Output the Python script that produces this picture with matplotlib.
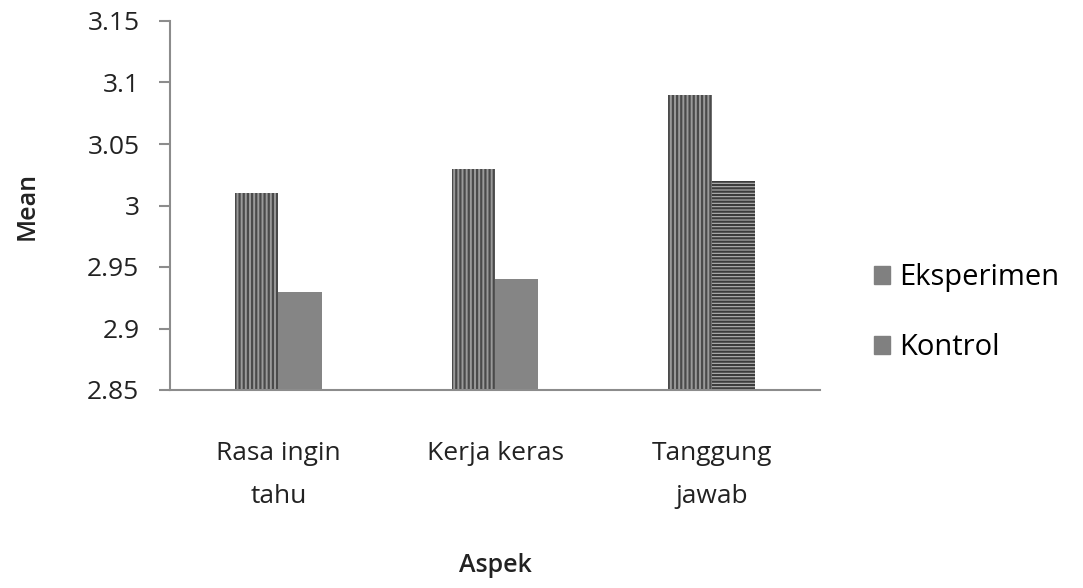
import matplotlib
matplotlib.use("Agg")
import matplotlib.pyplot as plt
import matplotlib.patches as mpatches
import numpy as np

plt.rcParams["font.family"] = ["Open Sans", "DejaVu Sans"]
plt.rcParams["hatch.linewidth"] = 1.6

categories = ["Rasa ingin\ntahu", "Kerja keras", "Tanggung\njawab"]
eksperimen = [3.01, 3.03, 3.09]
kontrol = [2.93, 2.94, 3.02]
y_ticks = [2.85, 2.9, 2.95, 3.0, 3.05, 3.1, 3.15]
y_labels = ["2.85", "2.9", "2.95", "3", "3.05", "3.1", "3.15"]

W, H = 1083, 588
fig = plt.figure(figsize=(W / 100, H / 100), dpi=100)
ax = fig.add_axes([170 / W, 1 - 390 / H, 650 / W, 369 / H])

x = np.arange(len(categories))
w = 0.2
axis_col = "#8c8c8c"
txt_col = "#222222"

ax.bar(x - w / 2, eksperimen, width=w, color="#9a9a9a",
       edgecolor="#4a4a4a", hatch="||||", linewidth=0)
for i, v in enumerate(kontrol):
    if i < 2:
        ax.bar(x[i] + w / 2, v, width=w, color="#858585", linewidth=0)
    else:
        ax.bar(x[i] + w / 2, v, width=w, color="#b5b5b5",
               edgecolor="#3c3c3c", hatch="-----", linewidth=0)

ax.set_ylim(2.85, 3.15)
ax.set_xlim(-0.5, 2.5)
ax.set_yticks(y_ticks)
ax.set_yticklabels(y_labels)
ax.set_xticks(x)
ax.set_xticklabels(categories, linespacing=1.95)

for s in ("top", "right"):
    ax.spines[s].set_visible(False)
for s in ("left", "bottom"):
    ax.spines[s].set_color(axis_col)
    ax.spines[s].set_linewidth(1.5)
ax.tick_params(axis="y", length=8, width=1.5, color=axis_col, labelsize=19, pad=14,
               labelcolor=txt_col)
ax.tick_params(axis="x", length=0, labelsize=19, pad=37, labelcolor=txt_col)

ax.set_ylabel("Mean", fontsize=18, fontweight="semibold", color=txt_col)
ax.yaxis.set_label_coords(-(170 - 40) / 650, 0.5)
ax.set_xlabel("Aspek", fontsize=18, fontweight="semibold", color=txt_col)
ax.xaxis.set_label_coords(0.5, -(553 - 390) / 369)

handles = [mpatches.Patch(color="#808080", label="Eksperimen"),
           mpatches.Patch(color="#808080", label="Kontrol")]
fig.legend(handles=handles, loc="upper left", bbox_to_anchor=(848 / W, 1 - 237 / H),
           frameon=False, fontsize=21, handlelength=0.55, handleheight=0.55,
           handletextpad=0.3, labelspacing=1.4)

fig.savefig("out.png", dpi=100)
